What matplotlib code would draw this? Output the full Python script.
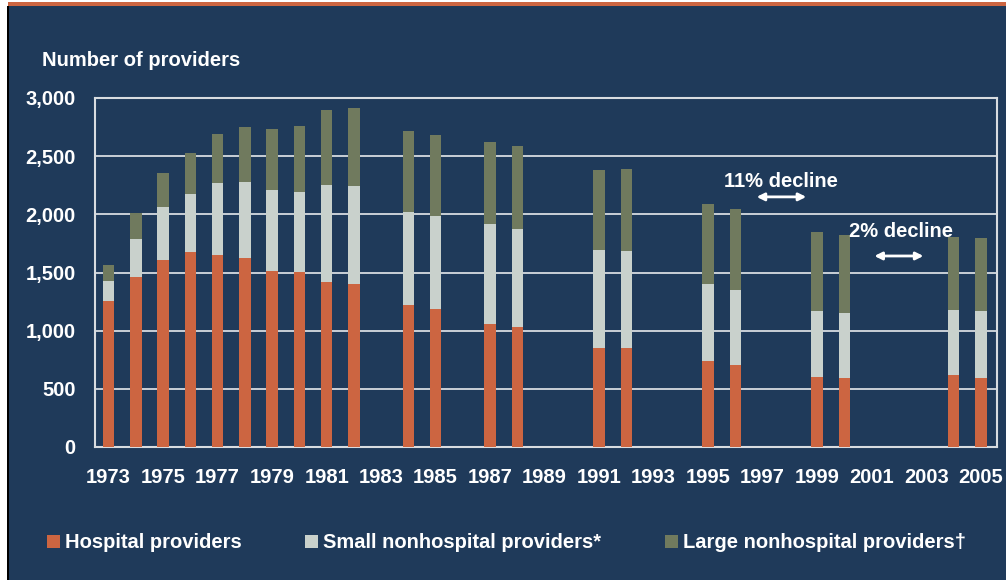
import matplotlib
matplotlib.use('Agg')
import matplotlib.pyplot as plt
from matplotlib.patches import Rectangle
import numpy as np

plt.rcParams['font.family'] = ['Liberation Sans', 'DejaVu Sans']
plt.rcParams['font.weight'] = 'bold'

# data
years = [1973, 1974, 1975, 1976, 1977, 1978, 1979, 1980, 1981, 1982,
         1984, 1985, 1987, 1988, 1991, 1992, 1995, 1996, 1999, 2000, 2004, 2005]
hospital = [1258, 1464, 1607, 1679, 1653, 1625, 1516, 1501, 1418, 1401,
            1220, 1186, 1059, 1033, 847, 847, 738, 703, 603, 594, 615, 594]
small_nonhosp = [169, 321, 459, 493, 616, 653, 691, 688, 832, 840,
                 798, 800, 861, 841, 849, 841, 663, 644, 565, 554, 565, 577]
large_nonhosp = [135, 224, 292, 355, 422, 473, 524, 570, 644, 670,
                 700, 698, 700, 712, 684, 700, 689, 700, 681, 675, 623, 623]
tick_years = list(range(1973, 2006, 2))
y_ticks = [0, 500, 1000, 1500, 2000, 2500, 3000]
series_names = ['Hospital providers', 'Small nonhospital providers*',
                'Large nonhospital providers\u2020']

navy = '#1F3A5A'
orange = '#CC6541'
light = '#C9D1CC'
olive = '#707A5E'
fs = 14.5

W, H = 1006, 580
fig = plt.figure(figsize=(W / 100, H / 100), dpi=100)
fig.patch.set_facecolor('white')

# background panel, top orange rule, left dark border
fig.patches.append(Rectangle((8 / W, 0), 1, 1 - 6 / H, transform=fig.transFigure,
                             facecolor=navy, edgecolor='none', zorder=-10))
fig.patches.append(Rectangle((8 / W, 1 - 6 / H), 1, 4 / H, transform=fig.transFigure,
                             facecolor=orange, edgecolor='none', zorder=-10))
fig.patches.append(Rectangle((7 / W, 0), 2 / W, 1 - 6 / H, transform=fig.transFigure,
                             facecolor='black', edgecolor='none', zorder=-9))

ax = fig.add_axes([95 / W, (H - 447) / H, (997 - 95) / W, (447 - 98) / H])
ax.set_facecolor(navy)

x = np.array(years)
hosp = np.array(hospital)
sm = np.array(small_nonhosp)
lg = np.array(large_nonhosp)
bw = 0.43
b1 = ax.bar(x, hosp, bw, color=orange, zorder=3, label=series_names[0])
b2 = ax.bar(x, sm, bw, bottom=hosp, color=light, zorder=3, label=series_names[1])
b3 = ax.bar(x, lg, bw, bottom=hosp + sm, color=olive, zorder=3, label=series_names[2])

ax.set_xlim(1972.5, 2005.6)
ax.set_ylim(0, 3000)
ax.set_xticks(tick_years)
ax.set_yticks(y_ticks)
ax.set_yticklabels(['{:,}'.format(v) for v in y_ticks])
ax.tick_params(length=0, colors='white', labelsize=fs)
ax.tick_params(axis='y', pad=14)
ax.tick_params(axis='x', pad=15)
ax.yaxis.grid(True, color='#E6E9EC', lw=1.2, zorder=1)
ax.set_axisbelow(True)
for s in ax.spines.values():
    s.set_color('#D8DCE0')
    s.set_linewidth(1.5)

fig.text(42 / W, 1 - 61 / H, 'Number of providers', color='white',
         fontsize=fs, va='center', ha='left')

# decline annotations
ax.text(1997.66, 2279, '11% decline', color='white', fontsize=fs,
        ha='center', va='center')
ax.annotate('', xy=(1998.6, 2150), xytext=(1996.78, 2150),
            arrowprops=dict(arrowstyle='<|-|>', color='white', lw=2,
                            mutation_scale=11, shrinkA=0, shrinkB=0))
ax.text(2002.06, 1849, '2% decline', color='white', fontsize=fs,
        ha='center', va='center')
ax.annotate('', xy=(2002.9, 1642), xytext=(2001.1, 1642),
            arrowprops=dict(arrowstyle='<|-|>', color='white', lw=2,
                            mutation_scale=11, shrinkA=0, shrinkB=0))

leg = fig.legend(handles=[b1, b2, b3], loc='center left',
                 bbox_to_anchor=(47 / W, 1 - 543 / H), ncol=3, frameon=False,
                 fontsize=fs, handlelength=0.65, handleheight=0.65,
                 handletextpad=0.25, columnspacing=3.15, borderpad=0,
                 borderaxespad=0)
for t in leg.get_texts():
    t.set_color('white')

fig.savefig('out.png', dpi=100, facecolor=fig.get_facecolor())
